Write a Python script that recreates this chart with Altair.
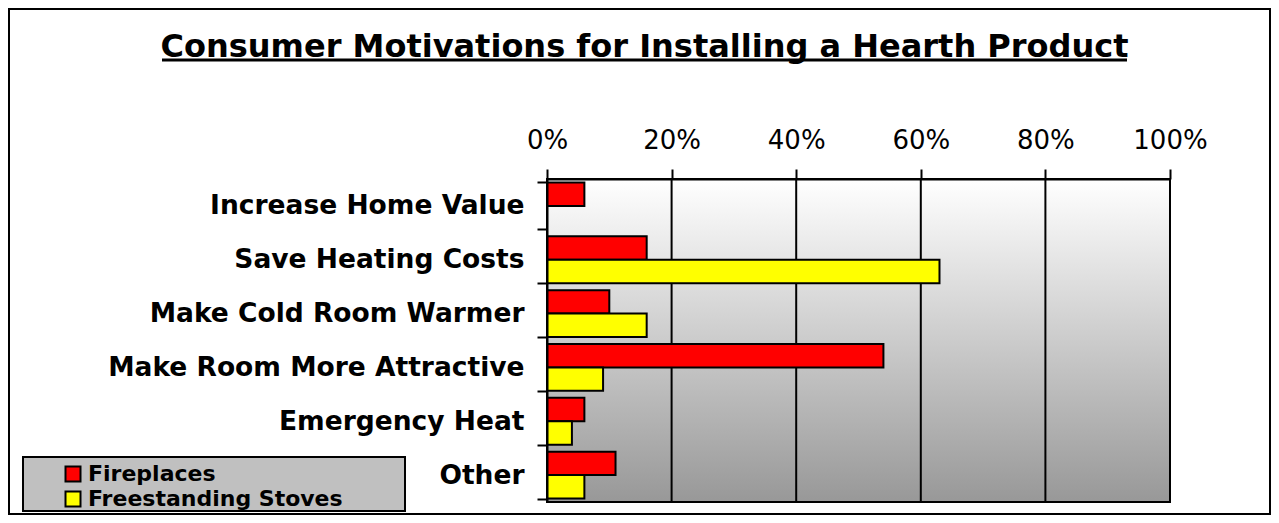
import altair as alt
import pandas as pd

# ---- data ----
categories = ["Increase Home Value", "Save Heating Costs", "Make Cold Room Warmer",
              "Make Room More Attractive", "Emergency Heat", "Other"]
series_names = ["Fireplaces", "Freestanding Stoves"]
fireplaces = [6, 16, 10, 54, 6, 11]
stoves = [0, 63, 16, 9, 4, 6]
x_ticks = [0, 20, 40, 60, 80, 100]
grid_lines = [20, 40, 60, 80]
series_colors = ["#FF0000", "#FFFF00"]
title_text = "Consumer Motivations for Installing a Hearth Product"

rows = []
for c, f, s in zip(categories, fireplaces, stoves):
    rows.append({"category": c, "series": series_names[0], "value": f})
    rows.append({"category": c, "series": series_names[1], "value": s})
df = pd.DataFrame(rows)

W, H = 623, 323
FONT = "DejaVu Sans"

xscale = alt.Scale(domain=[0, 100], nice=False, zero=True)
one = alt.Data(values=[{"k": 1}])

background = alt.Chart(one).mark_rect(
    color=alt.LinearGradient(
        gradient="linear",
        stops=[alt.GradientStop(color="#ffffff", offset=0),
               alt.GradientStop(color="#989898", offset=1)],
        x1=0, x2=0, y1=0, y2=1),
    stroke="black", strokeWidth=2,
).encode(x=alt.value(0), x2=alt.value(W), y=alt.value(0), y2=alt.value(H))

grid = alt.Chart(pd.DataFrame({"v": grid_lines})).mark_rule(
    color="black", strokeWidth=2
).encode(x=alt.X("v:Q", scale=xscale))

bars = alt.Chart(df).mark_bar(stroke="black", strokeWidth=2).encode(
    x=alt.X("value:Q", scale=xscale,
            axis=alt.Axis(orient="top", values=x_ticks, labelExpr="datum.value + '%'",
                          title=None, grid=False, labelFont=FONT, labelFontSize=26,
                          labelColor="black", labelPadding=16, labelFlush=False,
                          tickSize=10, tickColor="black", tickWidth=2,
                          domainColor="black", domainWidth=2, zindex=1)),
    y=alt.Y("category:N", sort=categories,
            scale=alt.Scale(paddingInner=0.13, paddingOuter=0.065),
            axis=alt.Axis(title=None, labelFont=FONT, labelFontSize=26.5,
                          labelFontWeight="bold", labelColor="black", labelPadding=13,
                          labelLimit=0, tickSize=10, tickColor="black", tickWidth=2,
                          tickBand="extent", domainColor="black", domainWidth=2,
                          zindex=1)),
    yOffset=alt.YOffset("series:N", sort=series_names,
                        scale=alt.Scale(paddingInner=0, paddingOuter=0)),
    color=alt.Color("series:N", sort=series_names,
                    scale=alt.Scale(domain=series_names, range=series_colors),
                    legend=alt.Legend(orient="none", legendX=-485, legendY=284,
                                      title=None, symbolType="square", symbolSize=225,
                                      symbolStrokeColor="black", symbolStrokeWidth=2,
                                      labelFont=FONT, labelFontSize=22, labelLimit=0,
                                      labelFontWeight="bold", labelColor="black",
                                      labelOffset=4, rowPadding=1, padding=0)),
)

legend_box = alt.Chart(one).mark_rect(
    fill="#c0c0c0", stroke="black", strokeWidth=2
).encode(x=alt.value(-524), x2=alt.value(-142), y=alt.value(278), y2=alt.value(332))

title = alt.Chart(one).mark_text(
    font=FONT, fontSize=32, fontWeight="bold", color="black",
    align="center", baseline="alphabetic"
).encode(x=alt.value(97.5), y=alt.value(-122), text=alt.value(title_text))

underline = alt.Chart(one).mark_rule(color="black", strokeWidth=3).encode(
    x=alt.value(-385), x2=alt.value(580), y=alt.value(-119))

border = alt.Chart(one).mark_rect(
    fill=None, stroke="black", strokeWidth=2, filled=False
).encode(x=alt.value(-538), x2=alt.value(723), y=alt.value(-170), y2=alt.value(335))

chart = alt.layer(background, grid, bars, legend_box, title, underline, border).properties(
    width=W, height=H,
    autosize=alt.AutoSizeParams(type="none"),
    padding={"left": 539, "top": 171, "right": 101, "bottom": 13},
).configure_view(stroke=None).configure(background="white")

chart.save("out.html", embed_options={"renderer": "svg", "actions": False})
